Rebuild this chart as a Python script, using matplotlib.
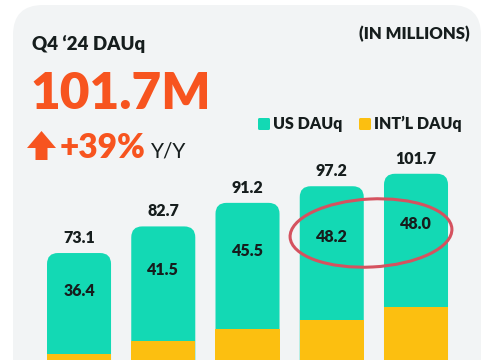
import matplotlib.pyplot as plt
from matplotlib.patches import FancyBboxPatch, Ellipse, Polygon

# data (in millions)
quarters = ["Q4 '23", "Q1 '24", "Q2 '24", "Q3 '24", "Q4 '24"]
totals = [73.1, 82.7, 91.2, 97.2, 101.7]
us_dauq = [36.4, 41.5, 45.5, 48.2, 48.0]
intl_dauq = [round(t - u, 1) for t, u in zip(totals, us_dauq)]

teal = '#13d9b4'
yellow = '#fcbf10'
orange = '#f7541f'
dark = '#161d1d'
heavy = 'heavy'
plt.rcParams['font.family'] = ['Lato', 'DejaVu Sans']

fig = plt.figure(figsize=(4.85, 3.6), dpi=100)
fig.patch.set_facecolor('white')

# card background
card = FancyBboxPatch((0.13, -0.3), 4.68, 3.85,
                      boxstyle='round,pad=0,rounding_size=0.3',
                      transform=fig.dpi_scale_trans, facecolor='#f2f4f5',
                      edgecolor='none', zorder=-1)
fig.patches.append(card)

ax = fig.add_axes([0, 0, 1, 1])
ax.set_facecolor('none')
ax.set_xlim(-0.938, 4.819)
ax.set_ylim(34.5, 164.4)
ax.axis('off')

x = list(range(len(quarters)))
w = 0.76

# US part on top with rounded corners
bars = ax.bar(x, totals, width=w, color=teal)
for rect in bars:
    rx, ry = rect.get_xy()
    p = FancyBboxPatch((rx, ry), rect.get_width(), rect.get_height(),
                       boxstyle='round,pad=0,rounding_size=0.13',
                       mutation_aspect=30.4, facecolor=teal,
                       edgecolor='none', zorder=2)
    ax.add_patch(p)
    rect.remove()
ax.bar(x, intl_dauq, width=w, color=yellow, zorder=3)

for i in x:
    ax.annotate(f'{totals[i]:.1f}', (i, totals[i]), xytext=(0, 5),
                textcoords='offset points', ha='center', va='bottom',
                fontsize=11.5, fontweight=heavy, color=dark)
    ax.text(i, intl_dauq[i] + us_dauq[i] * 0.62, f'{us_dauq[i]:.1f}',
            ha='center', va='center', fontsize=11.5, fontweight=heavy,
            color=dark, zorder=4)

# highlight ellipse
ell = Ellipse((3.71, 1.27), 1.62, 0.68, angle=3, transform=fig.dpi_scale_trans,
              fill=False, edgecolor='#d5525f', linewidth=2.2, zorder=5)
fig.patches.append(ell)

# headline texts
fig.text(32 / 485, 1 - 50 / 360, "Q4 \u201824 DAUq", fontsize=13.5,
         fontweight=heavy, color=dark, va='baseline')
fig.text(30 / 485, 1 - 109 / 360, "101.7M", fontsize=37,
         fontweight=heavy, color=orange, va='baseline')
fig.text(60 / 485, 1 - 158 / 360, "+39%", fontsize=24,
         fontweight=heavy, color=orange, va='baseline')
fig.text(151 / 485, 1 - 158 / 360, "Y/Y", fontsize=15,
         color=dark, va='baseline')
arrow = Polygon([(0.27, 3.6 - 1.48), (0.415, 3.6 - 1.31), (0.56, 3.6 - 1.48),
                 (0.475, 3.6 - 1.48), (0.475, 3.6 - 1.60), (0.355, 3.6 - 1.60),
                 (0.355, 3.6 - 1.48)], closed=True,
                transform=fig.dpi_scale_trans, facecolor=orange,
                edgecolor='none')
fig.patches.append(arrow)

fig.text(470 / 485, 1 - 34 / 360, "(IN MILLIONS)", fontsize=12,
         fontweight=heavy, color=dark, ha='right', va='center')

# legend
for sx, c, label in [(258, teal, "US DAUq"), (359, yellow, "INT\u2019L DAUq")]:
    fig.patches.append(FancyBboxPatch((sx / 100, 3.6 - 1.30), 0.12, 0.12,
                                      boxstyle='round,pad=0,rounding_size=0.015',
                                      transform=fig.dpi_scale_trans,
                                      facecolor=c, edgecolor='none'))
    fig.text((sx + 15) / 485, 1 - 124 / 360, label, fontsize=11.5,
             fontweight=heavy, color=dark, va='center')

fig.savefig('out.png', dpi=100)
